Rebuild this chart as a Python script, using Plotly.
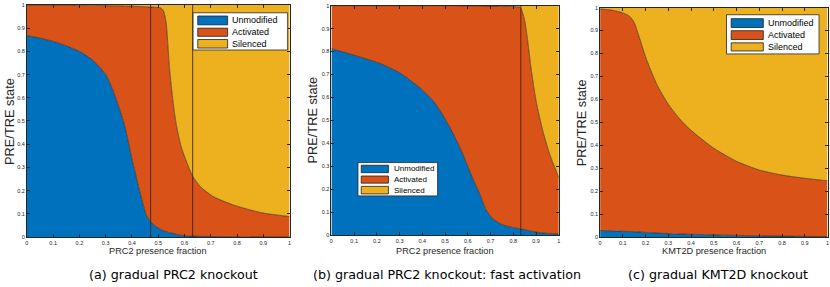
import plotly.graph_objects as go

# ---------------- data ----------------
# Panel (a): gradual PRC2 knockout
x_a = [0, 0.05, 0.1, 0.15, 0.2, 0.25, 0.3, 0.33, 0.35, 0.37, 0.39, 0.4, 0.41, 0.42,
       0.43, 0.44, 0.455, 0.471, 0.49, 0.51, 0.52, 0.53, 0.543, 0.556, 0.568, 0.587,
       0.612, 0.631, 0.663, 0.713, 0.789, 0.852, 0.9, 0.95, 1.0]
unmodified_a = [0.868, 0.857, 0.843, 0.824, 0.80, 0.763, 0.70, 0.625, 0.56, 0.49, 0.39,
                0.334, 0.29, 0.24, 0.195, 0.15, 0.094, 0.066, 0.046, 0.032, 0.027, 0.023,
                0.019, 0.016, 0.012, 0.007, 0.005, 0.004, 0.003, 0.002, 0.001, 0.0005,
                0.0003, 0.0001, 0.0]
unmod_plus_activated_a = [1.0, 1.0, 1.0, 1.0, 0.999, 0.998, 0.997, 0.996, 0.996, 0.995,
                          0.995, 0.995, 0.994, 0.994, 0.993, 0.993, 0.992, 0.991, 0.99,
                          0.987, 0.975, 0.924, 0.727, 0.586, 0.489, 0.39, 0.312, 0.262,
                          0.214, 0.172, 0.137, 0.116, 0.103, 0.095, 0.088]
vlines_a = [0.471, 0.631]

# Panel (b): gradual PRC2 knockout, fast activation
x_b = [0, 0.1, 0.214, 0.302, 0.39, 0.448, 0.491, 0.535, 0.579, 0.623, 0.652, 0.68, 0.71,
       0.754, 0.798, 0.827, 0.833, 0.849, 0.864, 0.878, 0.9, 0.929, 0.958, 1.0]
unmodified_b = [0.812, 0.784, 0.748, 0.706, 0.641, 0.585, 0.521, 0.443, 0.35, 0.243, 0.18,
                0.11, 0.07, 0.044, 0.033, 0.028, 0.027, 0.024, 0.02, 0.017, 0.013, 0.009,
                0.007, 0.004]
unmod_plus_activated_b = [1, 1, 1, 1, 1, 1, 1, 1, 0.999, 0.999, 0.999, 0.998, 0.998, 0.997,
                          0.996, 0.994, 0.99, 0.94, 0.841, 0.727, 0.585, 0.457, 0.358, 0.25]
vlines_b = [0.833]

# Panel (c): gradual KMT2D knockout
x_c = [0, 0.05, 0.1, 0.13, 0.15, 0.17, 0.2, 0.25, 0.3, 0.35, 0.4, 0.5, 0.6, 0.7, 0.8, 0.9, 1.0]
unmodified_c = [0.028, 0.027, 0.025, 0.024, 0.023, 0.022, 0.02, 0.017, 0.015, 0.013, 0.012,
                0.009, 0.007, 0.005, 0.004, 0.003, 0.002]
unmod_plus_activated_c = [0.994, 0.989, 0.977, 0.962, 0.935, 0.878, 0.785, 0.664, 0.579,
                          0.515, 0.465, 0.387, 0.33, 0.292, 0.27, 0.256, 0.245]

state_names = ["Unmodified", "Activated", "Silenced"]
x_titles = ["PRC2 presence fraction", "PRC2 presence fraction", "KMT2D presence fraction"]
y_title = "PRE/TRE state"
captions = ["(a) gradual PRC2 knockout",
            "(b) gradual PRC2 knockout: fast activation",
            "(c) gradual KMT2D knockout"]

# ---------------- styling ----------------
W, H = 830, 287
COLORS = ["#0072BD", "#D95319", "#EDB120"]
EDGE = "#1e1e1e"
AXC = "#262626"
TICKFONT = dict(family="Liberation Sans, Arial, sans-serif", size=5.5, color=AXC)


def PX(v):
    return v / W


def PY(v):
    return 1 - v / H


# plot boxes in pixels: (left, right, top, bottom)
boxes = [(25, 289, 2, 239), (331, 559.5, 2.7, 237), (601, 829.5, 4.7, 239)]
ytitle_x = [8, 311.7, 581.7]
caption_x = [172.5, 447, 719.5]
legend_boxes = [
    dict(box=(192, 287, 10, 48), sw=(196.7, 226.7), rows=[(13.3, 22.3), (25.7, 34), (37.3, 46)], tx=229.3, fs=9),
    dict(box=(357.7, 437.7, 163, 197), sw=(361, 388.3), rows=[(165.7, 173.3), (176.7, 184), (187.3, 195)], tx=391.7, fs=8),
    dict(box=(728, 821, 12, 52), sw=(732.7, 765), rows=[(16, 25), (28.3, 37.3), (40.7, 49)], tx=767.7, fs=9),
]

panels = [(x_a, unmodified_a, unmod_plus_activated_a, vlines_a),
          (x_b, unmodified_b, unmod_plus_activated_b, vlines_b),
          (x_c, unmodified_c, unmod_plus_activated_c, [])]

fig = go.Figure()
shapes = []
annotations = []

for i, (xs, low, up, vl) in enumerate(panels):
    sfx = "" if i == 0 else str(i + 1)
    xa, ya = "x" + sfx, "y" + sfx
    fig.add_trace(go.Scatter(x=xs, y=low, mode="lines", fill="tozeroy",
                             fillcolor=COLORS[0], line=dict(color=EDGE, width=0.6, shape="spline", smoothing=0.6),
                             name=state_names[0], showlegend=False, xaxis=xa, yaxis=ya))
    fig.add_trace(go.Scatter(x=xs, y=up, mode="lines", fill="tonexty",
                             fillcolor=COLORS[1], line=dict(color=EDGE, width=0.6, shape="spline", smoothing=0.6),
                             name=state_names[1], showlegend=False, xaxis=xa, yaxis=ya))
    fig.add_trace(go.Scatter(x=[0, 1], y=[1, 1], mode="lines", fill="tonexty",
                             fillcolor=COLORS[2], line=dict(width=0),
                             name=state_names[2], showlegend=False, xaxis=xa, yaxis=ya))
    for v in vl:
        shapes.append(dict(type="line", xref=xa, yref=ya + " domain", x0=v, x1=v, y0=0, y1=1,
                           line=dict(color="rgba(45,30,15,0.8)", width=1), layer="above"))

    l, r, t, b = boxes[i]
    axis_common = dict(range=[0, 1], showgrid=False, zeroline=False, showline=True,
                       linecolor=AXC, linewidth=0.8, mirror="ticks", ticks="inside",
                       ticklen=3, tickwidth=0.6, tickcolor=AXC, dtick=0.1, tick0=0,
                       tickfont=TICKFONT, fixedrange=True)
    fig.update_layout(**{
        "xaxis" + sfx: dict(domain=[PX(l), PX(r)], anchor=ya, **axis_common),
        "yaxis" + sfx: dict(domain=[PY(b), PY(t)], anchor=xa, **axis_common),
    })

    # axis titles
    annotations.append(dict(text=x_titles[i], xref="paper", yref="paper",
                            x=PX((l + r) / 2), y=PY(253), showarrow=False,
                            xanchor="center", yanchor="middle",
                            font=dict(family="Liberation Sans, Arial, sans-serif", size=9.2, color=AXC)))
    annotations.append(dict(text=y_title, xref="paper", yref="paper",
                            x=PX(ytitle_x[i]), y=PY((t + b) / 2), showarrow=False, textangle=-90,
                            xanchor="center", yanchor="middle",
                            font=dict(family="Liberation Sans, Arial, sans-serif", size=12.8, color=AXC)))
    annotations.append(dict(text=captions[i], xref="paper", yref="paper",
                            x=PX(caption_x[i]), y=PY(277.5), showarrow=False,
                            xanchor="center", yanchor="middle",
                            font=dict(family="DejaVu Sans, sans-serif", size=12.7, color="#000")))

    # legend box
    lg = legend_boxes[i]
    bl, br, bt, bb = lg["box"]
    shapes.append(dict(type="rect", xref="paper", yref="paper", x0=PX(bl), x1=PX(br),
                       y0=PY(bb), y1=PY(bt), fillcolor="white",
                       line=dict(color=AXC, width=0.8), layer="above"))
    for k, (rt, rb) in enumerate(lg["rows"]):
        shapes.append(dict(type="rect", xref="paper", yref="paper", x0=PX(lg["sw"][0]),
                           x1=PX(lg["sw"][1]), y0=PY(rb), y1=PY(rt), fillcolor=COLORS[k],
                           line=dict(color=EDGE, width=0.8), layer="above"))
        annotations.append(dict(text=state_names[k], xref="paper", yref="paper",
                                x=PX(lg["tx"]), y=PY((rt + rb) / 2), showarrow=False,
                                xanchor="left", yanchor="middle",
                                font=dict(family="Liberation Sans, Arial, sans-serif",
                                          size=lg["fs"], color="#000")))

fig.update_layout(width=W, height=H, autosize=False,
                  margin=dict(l=0, r=0, t=0, b=0, pad=0),
                  paper_bgcolor="white", plot_bgcolor="white",
                  shapes=shapes, annotations=annotations, showlegend=False)

fig.write_html("out.html", config={"displayModeBar": False},
               post_script="document.body.style.margin='0';document.body.style.padding='0';")
